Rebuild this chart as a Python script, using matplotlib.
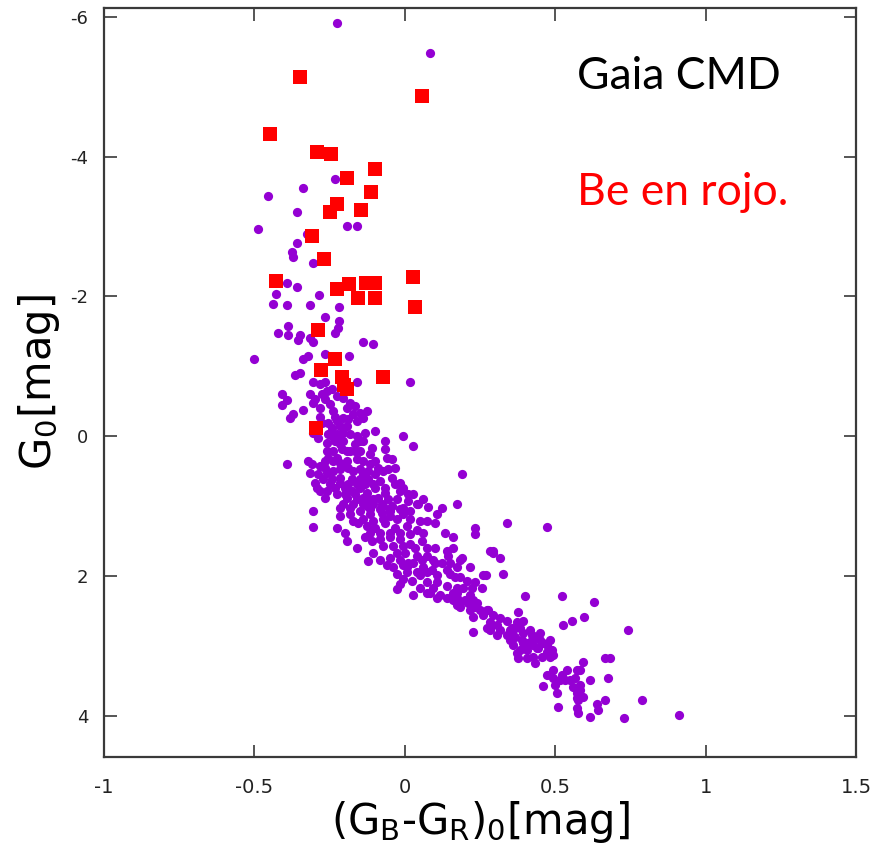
"""Gaia colour-magnitude diagram with the Be stars marked in red."""
import numpy as np
import matplotlib
matplotlib.use("Agg")
import matplotlib.pyplot as plt

# field stars: (G_B - G_R)_0 and G_0
field_color = [
    -0.226, 0.083, -0.455, -0.339, -0.233, -0.489, -0.359, -0.193, -0.160, -0.359,
    -0.376, -0.372, -0.303, -0.392, -0.359, -0.429, -0.286, -0.436, -0.392, -0.313,
    -0.219, -0.266, -0.219, -0.389, -0.223, -0.233, -0.422, -0.389, -0.349, -0.356,
    -0.313, -0.306, -0.140, -0.106, -0.502, -0.339, -0.322, -0.266, -0.186, -0.366,
    -0.349, -0.306, -0.283, -0.266, -0.243, -0.160, 0.017, -0.409, -0.392, -0.406,
    -0.316, -0.299, -0.276, -0.266, -0.249, -0.306, -0.283, -0.239, -0.233, -0.206,
    -0.183, -0.166, -0.173, -0.150, -0.126, -0.372, -0.382, -0.339, -0.283, -0.243,
    -0.216, -0.193, -0.256, -0.226, -0.206, -0.183, -0.133, -0.100, -0.007, 0.027,
    -0.306, -0.289, -0.259, -0.233, -0.206, -0.166, -0.140, -0.110, -0.066, -0.066,
    -0.259, -0.239, -0.209, -0.183, -0.150, -0.116, -0.060, -0.043, -0.392, -0.322,
    -0.309, -0.316, -0.256, -0.239, -0.216, -0.193, -0.160, -0.140, -0.100, -0.033,
    -0.259, -0.239, -0.216, -0.190, -0.150, -0.123, -0.100, -0.073, -0.273, -0.243,
    -0.216, -0.176, -0.150, -0.123, -0.083, -0.033, -0.299, -0.293, -0.259, -0.233,
    -0.199, -0.176, -0.150, -0.126, -0.100, -0.066, -0.017, 0.010, -0.266, -0.193,
    -0.160, -0.126, -0.090, -0.057, -0.027, 0.010, 0.043, 0.076, 0.123, 0.173,
    0.190, -0.306, -0.216, -0.183, -0.150, -0.116, -0.083, -0.050, -0.017, 0.017,
    0.106, -0.303, -0.073, 0.040, -0.216, -0.183, -0.116, -0.076, -0.050, -0.007,
    0.073, -0.226, -0.199, -0.156, -0.126, -0.100, -0.066, -0.033, 0.007, 0.040,
    0.100, 0.133, 0.160, 0.233, 0.233, -0.193, -0.160, -0.133, -0.110, -0.083,
    -0.050, -0.017, 0.017, 0.057, 0.100, 0.140, 0.160, 0.283, -0.123, -0.083,
    -0.050, -0.027, 0.000, 0.040, 0.073, 0.093, 0.143, 0.190, -0.040, -0.007,
    0.027, 0.060, 0.090, 0.140, 0.150, 0.216, 0.259, -0.027, -0.007, 0.023,
    0.050, 0.073, 0.106, 0.140, 0.173, 0.193, 0.223, 0.233, 0.256, 0.027,
    0.073, 0.106, 0.140, 0.173, 0.199, 0.226, 0.183, 0.216, 0.249, 0.259,
    -0.060, -0.027, 0.007, 0.100, 0.166, 0.173, 0.269, 0.326, 0.183, 0.316,
    0.293, 0.276, 0.283, 0.306, 0.339, 0.376, 0.356, 0.372, 0.392, 0.226,
    0.273, 0.306, 0.339, 0.366, 0.392, 0.422, 0.449, 0.359, 0.392, 0.426,
    0.459, 0.372, 0.406, 0.439, 0.472, 0.492, 0.432, 0.399, 0.522, 0.525,
    0.555, 0.472, 0.459, 0.492, 0.515, 0.549, 0.572, 0.283, 0.349, 0.382,
    0.376, 0.416, 0.442, 0.482, 0.505, 0.509, 0.532, 0.565, 0.582, 0.592,
    0.615, 0.582, 0.572, 0.575, 0.572, 0.575, 0.638, 0.665, 0.642, 0.615,
    0.675, 0.665, 0.682, 0.595, 0.628, 0.741, 0.788, 0.728, 0.911, 0.293,
    0.339, 0.472, -0.326,
    # main-sequence core
    -0.216, -0.193, -0.166, -0.226, -0.199, -0.173, -0.140, -0.216, -0.190, -0.160,
    -0.133, -0.106, -0.226, -0.199, -0.166, -0.140, -0.106, -0.206, -0.173, -0.140,
    -0.106, -0.076, -0.043, -0.007, -0.243, -0.223, -0.160, -0.150, -0.266, -0.266,
    -0.283, -0.289, -0.249, -0.283, -0.116, -0.090, -0.057, -0.043, -0.017, -0.007,
    -0.066, 0.027, 0.060,
    -0.126, -0.050, -0.173, -0.140, -0.106, -0.073, -0.027, 0.017, 0.050, -0.116,
    -0.083, -0.050, -0.017, 0.017, 0.060, -0.073, -0.040, -0.007, 0.033, 0.073,
    -0.106, -0.017, 0.010, 0.057, 0.123, 0.150, 0.173, 0.007, 0.040, 0.073,
    0.106, 0.183, 0.206, 0.050, 0.093, 0.160, 0.216, 0.160, 0.173, 0.233,
    0.273,
    -0.017, 0.083, 0.116, 0.156, 0.183, 0.209, 0.239, 0.226, 0.293, 0.316,
    0.283, 0.316, 0.349, 0.382, 0.389, 0.422, 0.449, 0.472, 0.482, 0.455,
    0.426, 0.406, 0.492, 0.522,
    0.359, 0.406, 0.442, 0.489, 0.559, 0.582, 0.572, 0.592, 0.499, 0.539,
    -0.259, -0.226, -0.193, -0.206, -0.190, -0.160, -0.226, -0.256, -0.276, -0.140,
]
field_mag = [
    -5.91, -5.48, -3.43, -3.55, -3.68, -2.96, -3.21, -3.01, -3.01, -2.76,
    -2.64, -2.56, -2.48, -2.19, -2.14, -2.04, -2.02, -1.89, -1.88, -1.87,
    -1.85, -1.70, -1.65, -1.58, -1.54, -1.48, -1.47, -1.44, -1.45, -1.38,
    -1.40, -1.34, -1.35, -1.32, -1.10, -1.11, -1.14, -1.18, -1.14, -0.88,
    -0.91, -0.77, -0.75, -0.78, -0.68, -0.77, -0.77, -0.60, -0.51, -0.44,
    -0.60, -0.53, -0.60, -0.53, -0.46, -0.47, -0.40, -0.36, -0.28, -0.54,
    -0.47, -0.43, -0.31, -0.33, -0.36, -0.31, -0.26, -0.38, -0.28, -0.11,
    -0.14, -0.14, -0.03, -0.03, -0.04, -0.03, -0.04, -0.07, 0.00, 0.14,
    -0.04, 0.03, 0.10, 0.07, 0.07, 0.11, 0.07, 0.17, 0.07, 0.19,
    0.21, 0.21, 0.19, 0.21, 0.21, 0.26, 0.31, 0.33, 0.40, 0.36,
    0.40, 0.53, 0.31, 0.36, 0.38, 0.36, 0.33, 0.36, 0.36, 0.46,
    0.53, 0.50, 0.47, 0.46, 0.47, 0.50, 0.54, 0.50, 0.61, 0.61,
    0.60, 0.61, 0.61, 0.61, 0.64, 0.68, 0.67, 0.74, 0.78, 0.74,
    0.74, 0.78, 0.74, 0.81, 0.75, 0.81, 0.78, 0.83, 0.88, 0.88,
    0.90, 0.90, 0.88, 0.90, 0.90, 0.93, 0.97, 1.01, 1.03, 0.97,
    0.54, 1.07, 1.03, 1.03, 1.07, 1.04, 1.04, 1.07, 1.04, 1.07,
    1.11, 1.30, 1.00, 0.97, 1.14, 1.11, 1.11, 1.10, 1.14, 1.11,
    1.21, 1.31, 1.38, 1.25, 1.28, 1.32, 1.25, 1.31, 1.28, 1.35,
    1.25, 1.38, 1.45, 1.31, 1.40, 1.50, 1.60, 1.45, 1.50, 1.47,
    1.45, 1.47, 1.54, 1.50, 1.60, 1.64, 1.60, 1.64, 1.79, 1.78,
    1.74, 1.68, 1.67, 1.71, 1.71, 1.78, 1.71, 1.75, 1.88, 1.85,
    1.82, 1.88, 1.92, 1.92, 1.97, 1.88, 1.99, 2.19, 2.04, 2.07,
    1.99, 2.09, 2.09, 2.14, 2.18, 2.17, 2.18, 2.09, 2.17, 2.28,
    2.25, 2.31, 2.32, 2.31, 2.35, 2.35, 2.45, 2.49, 2.49, 2.56,
    1.85, 1.97, 1.88, 1.82, 2.02, 2.24, 1.99, 1.97, 1.78, 1.74,
    1.67, 2.49, 2.66, 2.71, 2.64, 2.52, 2.74, 2.66, 2.64, 2.81,
    2.74, 2.85, 2.85, 2.88, 2.82, 2.85, 2.82, 2.99, 2.96, 2.99,
    2.96, 3.10, 3.06, 3.03, 3.09, 3.13, 3.25, 2.29, 2.29, 2.71,
    2.64, 3.42, 3.58, 3.46, 3.49, 3.49, 3.35, 2.75, 2.92, 3.06,
    3.18, 2.78, 2.89, 2.92, 3.68, 3.88, 3.49, 3.46, 3.35, 3.23,
    3.49, 3.56, 3.68, 3.78, 3.89, 3.96, 3.83, 3.78, 3.92, 4.02,
    3.46, 3.18, 3.18, 2.59, 2.38, 2.78, 3.78, 4.03, 3.99, 1.64,
    1.25, 1.30, -2.89,
    # main-sequence core
    0.11, 0.21, 0.21, 0.31, 0.43, 0.50, 0.54, 0.67, 0.68, 0.68,
    0.68, 0.68, 0.83, 0.83, 0.83, 0.88, 0.90, 0.97, 0.97, 0.97,
    0.97, 0.97, 1.00, 1.03, 0.00, 0.03, 0.00, 0.07, 0.36, 0.46,
    0.43, 0.54, 0.68, 0.78, 0.40, 0.46, 0.47, 0.60, 0.67, 0.74,
    0.74, 0.83, 0.90,
    1.00, 1.04, 1.21, 1.18, 1.21, 1.18, 1.18, 1.18, 1.21, 1.38,
    1.38, 1.38, 1.38, 1.40, 1.38, 1.57, 1.57, 1.57, 1.60, 1.60,
    1.67, 1.78, 1.81, 1.78, 1.81, 1.82, 1.88, 1.95, 1.95, 1.95,
    1.99, 2.02, 2.07, 2.17, 2.18, 2.24, 2.28, 2.35, 2.42, 2.45,
    2.49,
    2.11, 2.25, 2.28, 2.32, 2.39, 2.39, 2.39, 2.59, 2.56, 2.61,
    2.78, 2.78, 2.78, 2.75, 2.92, 2.92, 2.92, 2.99, 3.16, 3.16,
    3.16, 3.18, 3.35, 3.42,
    2.78, 2.96, 3.03, 3.06, 3.59, 3.63, 3.75, 3.73, 3.56, 3.35,
    -0.64, -0.57, -0.40, -0.26, -0.24, -0.21, -0.21, -0.19, -0.19, -0.26,
]

# Be stars
be_color = [
    -0.349, 0.057, -0.449, -0.293, -0.246, -0.100, -0.193, -0.113, -0.226, -0.249,
    -0.146, -0.309, -0.269, -0.429, -0.226, -0.186, -0.130, -0.100, 0.027, -0.156,
    -0.100, 0.033, -0.289, -0.233, -0.279, -0.209, -0.203, -0.193, -0.073, -0.296,
]
be_mag = [
    -5.14, -4.86, -4.33, -4.06, -4.03, -3.82, -3.69, -3.49, -3.32, -3.21,
    -3.23, -2.86, -2.54, -2.22, -2.11, -2.17, -2.19, -2.19, -2.28, -1.97,
    -1.97, -1.85, -1.52, -1.10, -0.95, -0.85, -0.73, -0.67, -0.84, -0.11,
]

fig = plt.figure(figsize=(8.79, 8.61), dpi=100)
ax = fig.add_axes([0.118, 0.121, 0.856, 0.870])

ax.scatter(field_color, field_mag, s=44, marker="o", color="#9400d3",
           linewidths=0, zorder=2)
ax.scatter(be_color, be_mag, s=98, marker="s", color="#ff0000",
           linewidths=0, zorder=3)

ax.set_xlim(-1, 1.5)
ax.set_ylim(4.59, -6.13)
ax.set_xticks(np.arange(-1, 1.51, 0.5))
ax.set_xticklabels(["-1", "-0.5", "0", "0.5", "1", "1.5"])
ax.set_yticks(np.arange(-6, 4.1, 2))
ax.set_yticklabels(["-6", "-4", "-2", "0", "2", "4"])

for sp in ax.spines.values():
    sp.set_color("#3a3a3a")
    sp.set_linewidth(1.6)
ax.tick_params(direction="in", length=9, width=1.4, color="#555555",
               top=True, right=True, labelcolor="#222222")
ax.tick_params(axis="x", pad=15, labelsize=14)
ax.tick_params(axis="y", pad=11, labelsize=13)

ax.set_xlabel(r"(G$_\mathregular{B}$-G$_\mathregular{R}$)$_\mathregular{0}$[mag]",
              fontsize=30, labelpad=2)
ax.set_ylabel(r"G$_\mathregular{0}$[mag]", fontsize=30, labelpad=6)

ax.text(0.572, -4.97, "Gaia CMD", fontsize=32, family="Lato",
        color="black", ha="left", va="baseline")
ax.text(0.572, -3.30, "Be en rojo.", fontsize=32, family="Lato",
        color="#ff0000", ha="left", va="baseline")

fig.savefig("out.png", dpi=100)
